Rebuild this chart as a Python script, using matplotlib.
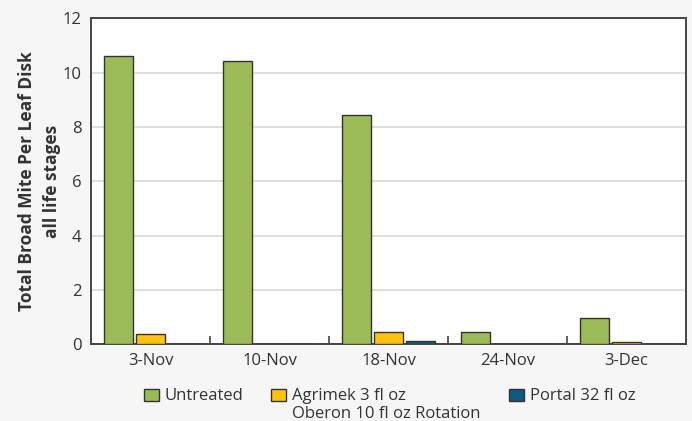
import matplotlib
matplotlib.use("Agg")
import matplotlib.pyplot as plt
import numpy as np

# data
dates = ["3-Nov", "10-Nov", "18-Nov", "24-Nov", "3-Dec"]
untreated = [10.6, 10.43, 8.43, 0.45, 0.97]
agrimek = [0.38, 0.0, 0.44, 0.0, 0.07]
portal = [0.0, 0.0, 0.12, 0.0, 0.0]

# trailing "\n" keeps every legend label two lines tall so the first lines line up
series_names = ["Untreated\n", "Agrimek 3 fl oz\nOberon 10 fl oz Rotation", "Portal 32 fl oz\n"]
colors = ["#9BBB59", "#FFC20E", "#0E5A80"]

plt.rcParams["font.family"] = ["Open Sans", "DejaVu Sans"]

fig = plt.figure(figsize=(6.92, 4.21), dpi=100, facecolor="#F6F6F6")
ax = fig.add_axes([0.1315, 0.182, 0.8598, 0.7745])
ax.set_facecolor("white")

x = np.arange(len(dates))
w = 0.24
offsets = [-0.27, 0.0, 0.27]
for vals, name, col, off in zip([untreated, agrimek, portal], series_names, colors, offsets):
    ax.bar(x + off, vals, width=w, color=col, edgecolor="#333333", linewidth=1.0,
           label=name, zorder=3)

ax.set_xlim(-0.5, len(dates) - 0.5)
ax.set_ylim(0, 12)
ax.set_yticks(range(0, 13, 2))
ax.grid(axis="y", color="#D9D9D9", linewidth=1.2, zorder=0)
ax.set_axisbelow(True)

ax.set_xticks(x)
ax.set_xticklabels(dates)
ax.set_xticks(np.arange(0.5, len(dates) - 0.5, 1), minor=True)
ax.tick_params(axis="x", which="major", length=0, pad=6, labelsize=12, labelcolor="#333333")
ax.tick_params(axis="x", which="minor", direction="in", length=5.5, width=1.2, color="#444444")
ax.tick_params(axis="y", length=0, pad=7, labelsize=12, labelcolor="#333333")

for s in ax.spines.values():
    s.set_color("#444444")
    s.set_linewidth(1.4)

ax.set_ylabel("Total Broad Mite Per Leaf Disk\nall life stages", fontsize=12.5,
              fontweight="bold", color="#333333", labelpad=1, linespacing=1.5)

fs = 12
leg = fig.legend(loc="upper center", bbox_to_anchor=(0.563, 0.095), ncol=3, frameon=False,
                 fontsize=fs, handlelength=0.9, handleheight=0.78, handletextpad=0.36,
                 columnspacing=1.68, labelcolor="#333333", borderaxespad=0)
# lift swatches level with the first text line
for h in leg.legend_handles:
    h.set_y(h.get_y() + 0.6 * fs)

fig.savefig("out.png", dpi=100, facecolor=fig.get_facecolor())
